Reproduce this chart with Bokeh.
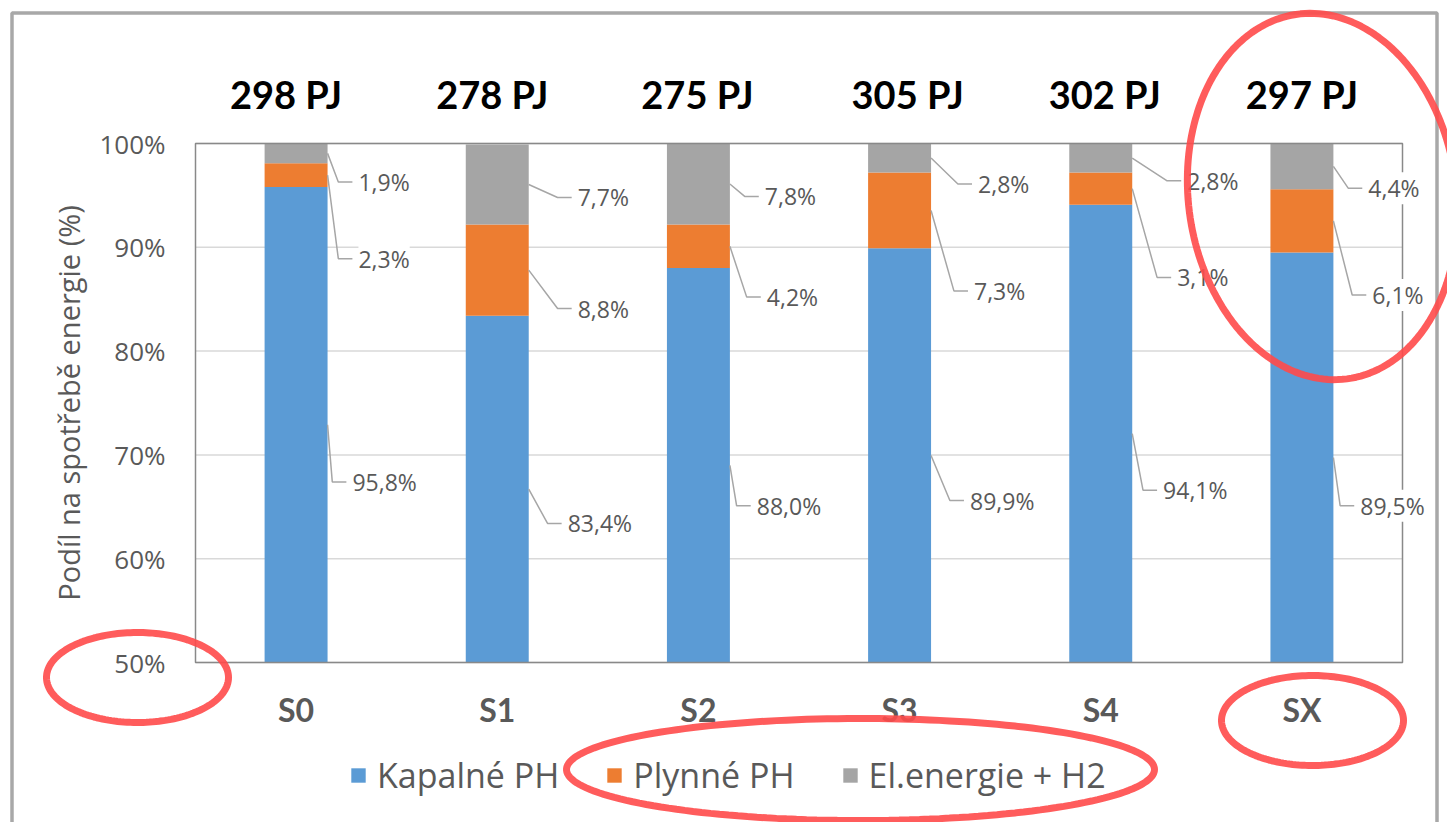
import numpy as np
from bokeh.plotting import figure
from bokeh.models import (Range1d, FixedTicker, PrintfTickFormatter, LabelSet, ColumnDataSource,
                          Legend, LegendItem, PolyAnnotation, LinearAxis)
from bokeh.core.properties import value
from bokeh.embed import file_html
from bokeh.resources import INLINE

# ---------------- data ----------------
scenarios = ["S0", "S1", "S2", "S3", "S4", "SX"]
totals_pj = [298, 278, 275, 305, 302, 297]
kapalne = [95.8, 83.4, 88.0, 89.9, 94.1, 89.5]
plynne = [2.3, 8.8, 4.2, 7.3, 3.1, 6.1]
elektro = [1.9, 7.7, 7.8, 2.8, 2.8, 4.4]
series_names = ["Kapalné PH", "Plynné PH", "El.energie + H2"]
y_ticks = [50, 60, 70, 80, 90, 100]
Y_MIN, Y_MAX = 50, 100

# ---------------- layout (label placement, data units) ----------------
label_dx_kap = [0.28, 0.35, 0.29, 0.35, 0.31, 0.29]
label_dx_ply = [0.31, 0.40, 0.34, 0.37, 0.38, 0.35]
label_dx_el = [0.31, 0.40, 0.33, 0.39, 0.43, 0.33]
label_y_kap = [67.4, 63.4, 65.1, 65.6, 66.6, 65.1]
label_y_ply = [88.9, 84.1, 85.2, 85.8, 87.1, 85.4]
label_y_el = [96.3, 94.8, 94.9, 96.1, 96.4, 95.7]
totals_dx = [-0.05, -0.025, -0.005, 0.04, 0.02, 0.0]

COLORS = ["#5B9BD5", "#ED7D31", "#A5A5A5"]
TXT = "#595959"
BAR_W = 0.313

W, H = 1447, 822
# plot box in canvas pixels
BOX_L, BOX_R, BOX_T, BOX_B = 195, 1402, 143, 662
sx = (BOX_R - BOX_L) / 6.0
sy = (BOX_B - BOX_T) / (Y_MAX - Y_MIN)
X0 = -BOX_L / sx
X1 = 6 + (W - BOX_R) / sx
Y0 = Y_MIN - (H - BOX_B) / sy
Y1 = Y_MAX + BOX_T / sy


def px_to_data(px, py):
    return (np.asarray(px) - BOX_L) / sx, Y_MAX - (np.asarray(py) - BOX_T) / sy


xc = [i + 0.5 for i in range(len(scenarios))]

p = figure(width=W, height=H, output_backend="svg", toolbar_location=None,
           x_range=Range1d(X0, X1), y_range=Range1d(Y0, Y1),
           min_border=0, min_border_left=0, min_border_right=0,
           min_border_top=0, min_border_bottom=0)
p.background_fill_color = "white"
p.border_fill_color = "white"
p.outline_line_color = None

# grid lines inside plot box
p.xgrid.grid_line_color = None
p.ygrid.grid_line_color = None
p.segment(x0=[0] * len(y_ticks), x1=[6] * len(y_ticks), y0=y_ticks, y1=y_ticks,
          line_color="#D9D9D9", line_width=1.5)

# stacked bars (visible part from axis minimum)
cum1 = kapalne
cum2 = [k + q for k, q in zip(kapalne, plynne)]
cum3 = [c + e for c, e in zip(cum2, elektro)]
bottoms = [[Y_MIN] * 6, cum1, cum2]
tops = [cum1, cum2, cum3]
rends = []
for s in range(3):
    r = p.vbar(x=xc, bottom=bottoms[s], top=tops[s], width=BAR_W,
               fill_color=COLORS[s], line_color=None)
    rends.append(r)

# plot box
p.quad(left=[0], right=[6], bottom=[Y_MIN], top=[Y_MAX], fill_color=None,
       line_color="#898989", line_width=1.5)

# axes at fixed locations
p.xaxis.fixed_location = Y_MIN
p.xaxis.bounds = (0, 6)
p.xaxis.ticker = FixedTicker(ticks=xc)
p.xaxis.major_label_overrides = {x: s for x, s in zip(xc, scenarios)}
p.xaxis.major_label_text_font = "Lato"
p.xaxis.major_label_text_font_style = "bold"
p.xaxis.major_label_text_font_size = "32px"
p.xaxis.major_label_text_color = TXT
p.xaxis.major_label_standoff = 21
p.xaxis.axis_line_color = None
p.xaxis.major_tick_line_color = None
p.xaxis.minor_tick_line_color = None

p.yaxis.fixed_location = 0
p.yaxis.bounds = (Y_MIN, Y_MAX)
p.yaxis.ticker = FixedTicker(ticks=y_ticks)
p.yaxis.formatter = PrintfTickFormatter(format="%d%%")
p.yaxis.major_label_text_font = "Open Sans"
p.yaxis.major_label_text_font_size = "26px"
p.yaxis.major_label_text_color = TXT
p.yaxis.major_label_standoff = 24
p.yaxis.axis_line_color = None
p.yaxis.major_tick_line_color = None
p.yaxis.minor_tick_line_color = None
p.yaxis.axis_label = "Podíl na spotřebě energie (%)"
p.yaxis.axis_label_text_font = "Open Sans"
p.yaxis.axis_label_text_font_size = "29px"
p.yaxis.axis_label_text_font_style = "normal"
p.yaxis.axis_label_text_color = TXT
p.yaxis.axis_label_standoff = 8

tot_ticks = [x + d for x, d in zip(xc, totals_dx)]
top_axis = LinearAxis(ticker=FixedTicker(ticks=tot_ticks),
                      major_label_overrides={x: f"{t} PJ" for x, t in zip(tot_ticks, totals_pj)},
                      major_label_text_font="Lato", major_label_text_font_style="bold",
                      major_label_text_font_size="38px", major_label_text_color="black",
                      major_label_standoff=21, axis_line_color=None,
                      major_tick_line_color=None, minor_tick_line_color=None)
p.add_layout(top_axis, "above")
top_axis.fixed_location = Y_MAX

# leader lines + labels
def fmt(v):
    return f"{v:.1f}".replace(".", ",") + "%"

lx, ly, lt = [], [], []
xs, ys = [], []
vals = [kapalne, plynne, elektro]
dxs = [label_dx_kap, label_dx_ply, label_dx_el]
lys = [label_y_kap, label_y_ply, label_y_el]
for s in range(3):
    for i in range(6):
        mid = (max(bottoms[s][i], Y_MIN) + tops[s][i]) / 2
        x0 = xc[i] + BAR_W / 2
        xl = xc[i] + dxs[s][i]
        xs.append([x0, xl - 0.10, xl - 0.03])
        ys.append([mid, lys[s][i], lys[s][i]])
        lx.append(xl)
        ly.append(lys[s][i])
        lt.append(fmt(vals[s][i]))

p.multi_line(xs=xs, ys=ys, line_color="#A6A6A6", line_width=1.5)
lab_src = ColumnDataSource(dict(x=lx, y=ly, t=lt))
p.add_layout(LabelSet(x="x", y="y", text="t", source=lab_src, text_align="left",
                      text_baseline="middle", text_font=value("Open Sans"),
                      text_font_size="23px", text_color=TXT,
                      background_fill_color="white"))

# legend
legend = Legend(items=[LegendItem(label=n, renderers=[r]) for n, r in zip(series_names, rends)],
                location=(349, 24), orientation="horizontal", spacing=46, label_standoff=10,
                glyph_width=18, glyph_height=18, padding=0, margin=0,
                border_line_color=None, background_fill_alpha=0,
                label_text_font="Open Sans", label_text_font_size="34px",
                label_text_color=TXT)
p.add_layout(legend)

# outer frame of the chart (canvas pixels -> data)
fx, fy = px_to_data([11.5, 1436.5, 1436.5, 11.5], [12.5, 12.5, 840, 840])
p.add_layout(PolyAnnotation(xs=list(fx), ys=list(fy), fill_alpha=0, line_color="#A8A8A8",
                            line_alpha=1.0, line_width=3.5, level="annotation"))

# red highlight ellipses in canvas pixels: (cx, cy, rx, ry, rotation deg)
ellipses = [(137, 677, 91, 45, 0), (1312, 720, 91, 45, 0),
            (860, 769, 294, 51, 0), (1322, 196, 134, 184, -8)]
t = np.linspace(0, 2 * np.pi, 180)
for cx, cy, rx, ry, rot in ellipses:
    a = np.deg2rad(rot)
    ex = rx * np.cos(t)
    ey = ry * np.sin(t)
    px = cx + ex * np.cos(a) - ey * np.sin(a)
    py = cy + ex * np.sin(a) + ey * np.cos(a)
    dx_, dy_ = px_to_data(px, py)
    p.add_layout(PolyAnnotation(xs=list(dx_), ys=list(dy_),
                                fill_alpha=0, line_color="#FF4A4A", line_alpha=0.9,
                                line_width=7, level="overlay"))

open("out.html", "w").write(file_html(p, INLINE))
